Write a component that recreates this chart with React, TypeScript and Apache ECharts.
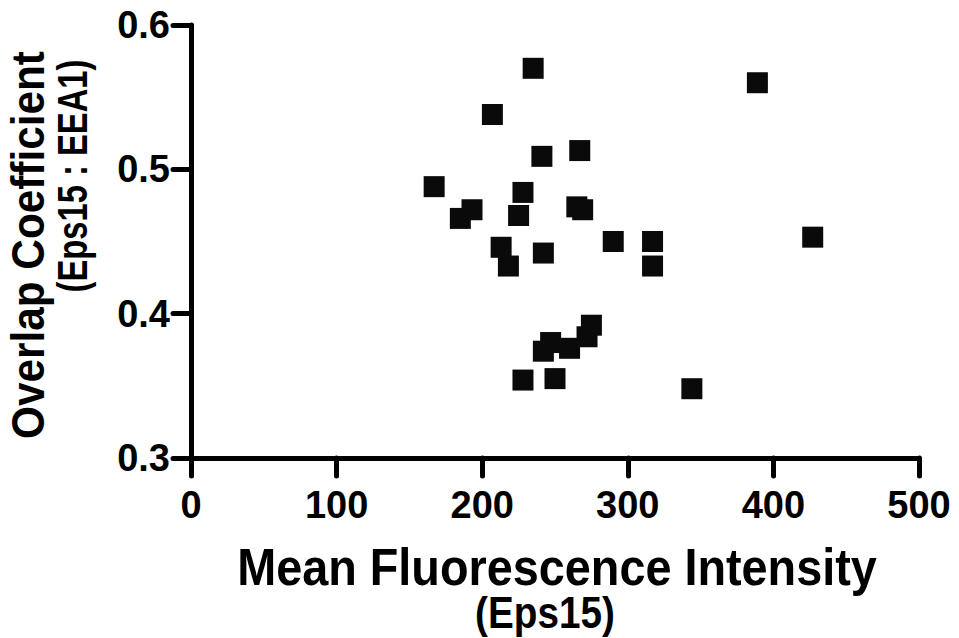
import React, { useEffect, useRef } from "react";
import * as echarts from "echarts";

const xValues = [235, 389, 207, 241, 267, 228, 225, 265, 269, 213, 218, 242, 290, 317, 317, 427, 275, 272, 260, 247, 242, 228, 250, 344, 167, 193, 185];
const yValues = [0.570, 0.560, 0.538, 0.509, 0.513, 0.484, 0.468, 0.474, 0.472, 0.446, 0.433, 0.442, 0.450, 0.450, 0.433, 0.453, 0.392, 0.384, 0.376, 0.380, 0.374, 0.354, 0.355, 0.348, 0.488, 0.472, 0.466];
const xTitle = "Mean Fluorescence Intensity";
const xSubTitle = "(Eps15)";
const yTitle = "Overlap Coefficient";
const ySubTitle = "(Eps15 : EEA1)";

const FONT = "'Liberation Sans', Arial, Helvetica, sans-serif";

export default function App() {
  const ref = useRef<HTMLDivElement>(null);
  useEffect(() => {
    if (!ref.current) return;
    const chart = echarts.init(ref.current, null, { renderer: "svg" });
    const points = xValues.map((x, i) => [x, yValues[i]]);
    const axisCommon = {
      axisLine: { show: true, lineStyle: { color: "#000", width: 5, cap: "round" } },
      axisTick: { show: true, inside: false, length: 18, lineStyle: { color: "#000", width: 5, cap: "round" } },
      splitLine: { show: false },
    };
    chart.setOption({
      animation: false,
      backgroundColor: "#fff",
      grid: { left: 191, right: 40, top: 25, bottom: 180, containLabel: false },
      xAxis: {
        type: "value",
        min: 0,
        max: 500,
        interval: 100,
        ...axisCommon,
        axisLabel: { fontSize: 38, fontWeight: "bold", color: "#000", fontFamily: FONT, margin: 28 },
      },
      yAxis: {
        type: "value",
        min: 0.3,
        max: 0.6,
        interval: 0.1,
        ...axisCommon,
        axisLabel: {
          fontSize: 38,
          fontWeight: "bold",
          color: "#000",
          fontFamily: FONT,
          margin: 21,
          formatter: (v: number) => v.toFixed(1),
        },
      },
      series: [
        {
          type: "scatter",
          data: points,
          symbol: "rect",
          symbolSize: 21,
          itemStyle: { color: "#0a0a0a", opacity: 1 },
        },
      ],
      graphic: [
        {
          type: "text",
          x: 557,
          y: 567,
          scaleX: 0.9,
          style: { text: xTitle, font: `bold 52px ${FONT}`, fill: "#000", align: "center", verticalAlign: "middle" },
        },
        {
          type: "text",
          x: 545,
          y: 612,
          scaleX: 0.86,
          style: { text: xSubTitle, font: `bold 45px ${FONT}`, fill: "#000", align: "center", verticalAlign: "middle" },
        },
        {
          type: "text",
          x: 28,
          y: 245,
          rotation: Math.PI / 2,
          scaleX: 0.9,
          style: { text: yTitle, font: `bold 47px ${FONT}`, fill: "#000", align: "center", verticalAlign: "middle" },
        },
        {
          type: "text",
          x: 73,
          y: 176,
          rotation: Math.PI / 2,
          scaleX: 0.78,
          style: { text: ySubTitle, font: `bold 42px ${FONT}`, fill: "#000", align: "center", verticalAlign: "middle" },
        },
      ],
    });
    return () => chart.dispose();
  }, []);
  return <div ref={ref} style={{ position: "fixed", left: 0, top: 0, width: 959, height: 638 }} />;
}
